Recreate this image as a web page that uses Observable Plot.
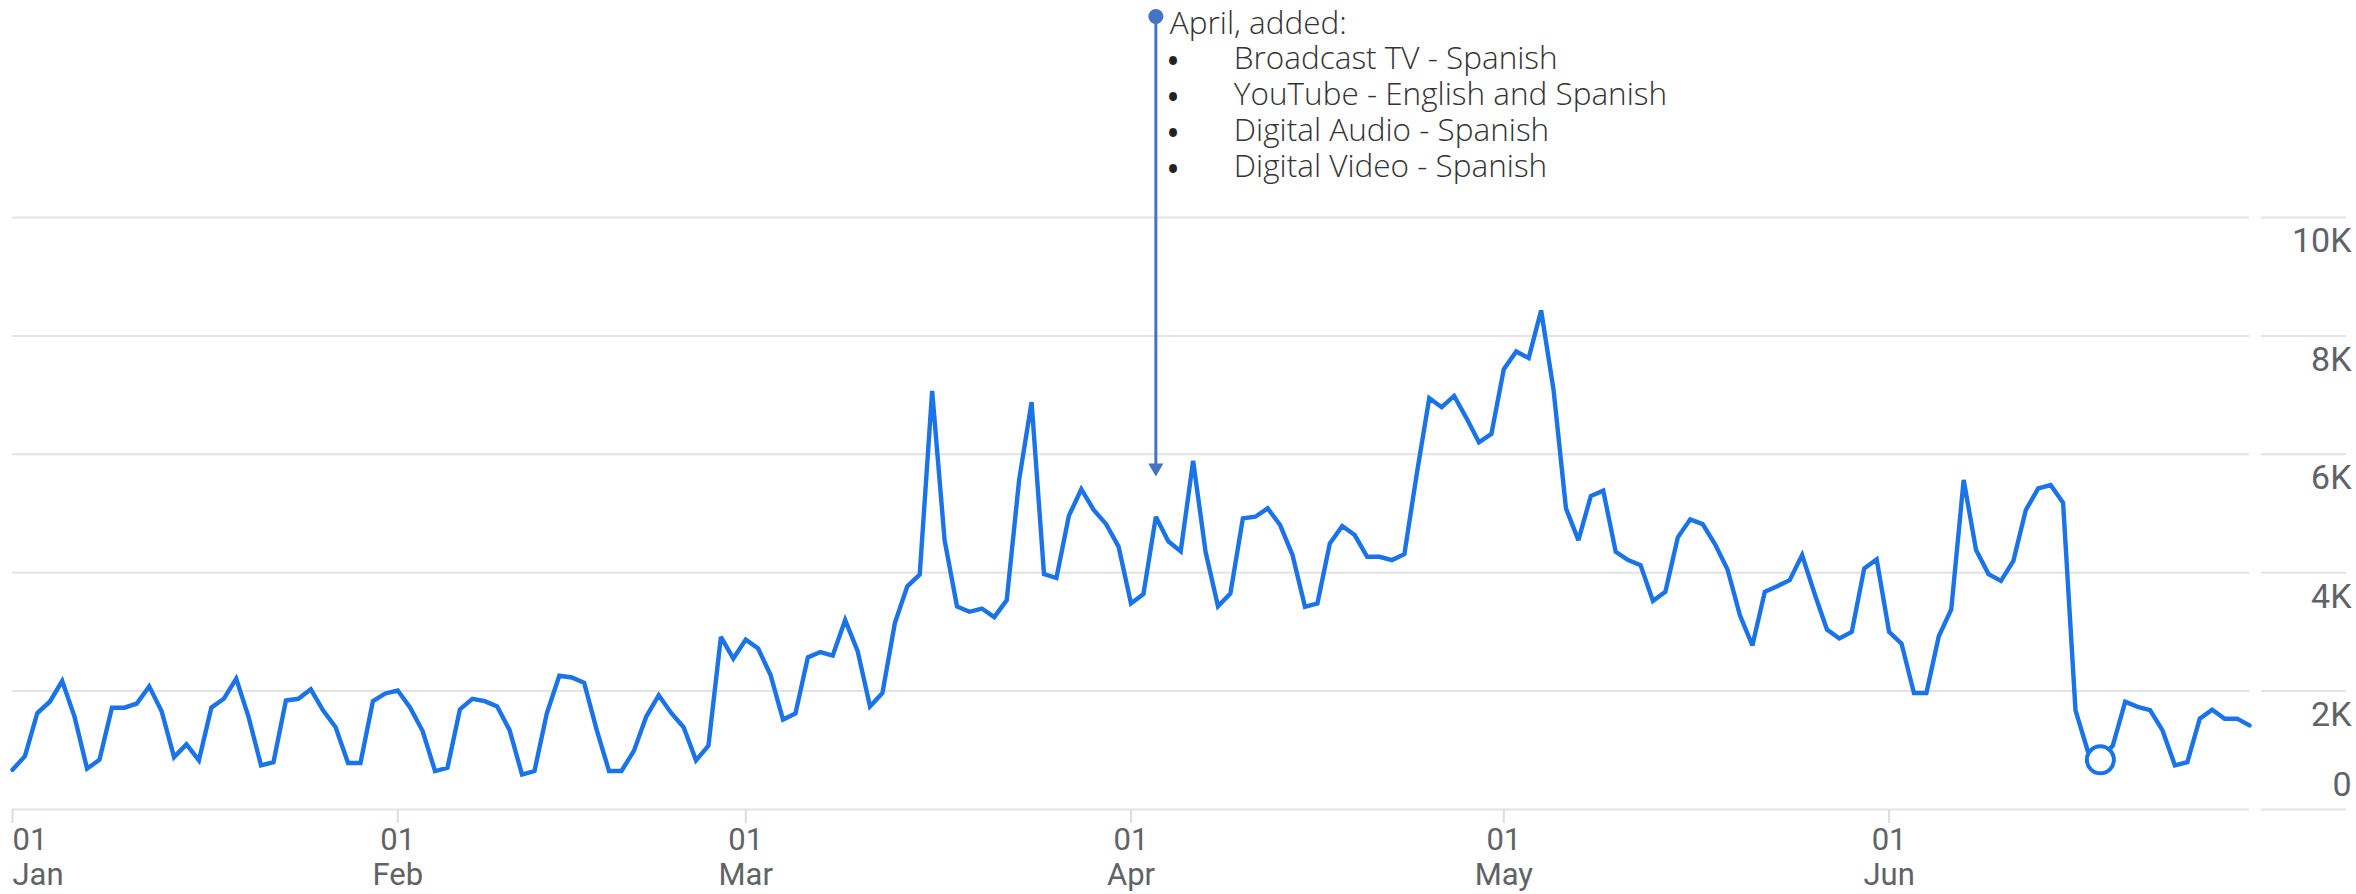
<!DOCTYPE html>
<html>
<head>
<meta charset="utf-8">
<script src="https://cdn.jsdelivr.net/npm/d3@7"></script>
<script src="https://cdn.jsdelivr.net/npm/@observablehq/plot@0.6"></script>
<style>
  html, body { margin: 0; padding: 0; background: #fff; }
  #chart svg { display: block; }
</style>
</head>
<body>
<div id="chart"></div>
<script>
// ---- data (daily, Jan 1 – Jun 30, 2023) ----
const startDate = "2023-01-01";
const values = [
  670, 900, 1630, 1820, 2170, 1560, 690, 840, 1720, 1720,
  1790, 2080, 1660, 885, 1100, 830, 1720, 1870, 2210, 1560,
  745, 800, 1840, 1870, 2030, 1670, 1390, 785, 785, 1830,
  1960, 2010, 1720, 1325, 650, 705, 1690, 1870, 1830, 1740,
  1340, 590, 650, 1630, 2260, 2230, 2140, 1350, 650, 650,
  990, 1570, 1930, 1630, 1390, 830, 1080, 2915, 2550, 2870,
  2720, 2270, 1520, 1620, 2570, 2660, 2600, 3200, 2680, 1740,
  1970, 3150, 3770, 3970, 7070, 4550, 3430, 3340, 3395, 3250,
  3536, 5570, 6880, 3976, 3910, 4960, 5410, 5060, 4820, 4440,
  3480, 3640, 4945, 4530, 4360, 5890, 4354, 3434, 3649, 4918,
  4945, 5087, 4805, 4297, 3423, 3480, 4495, 4788, 4636, 4269,
  4269, 4213, 4314, 5679, 6948, 6796, 6987, 6610, 6204, 6344,
  7439, 7737, 7625, 8430, 7088, 5087, 4551, 5295, 5385, 4354,
  4213, 4128, 3524, 3677, 4597, 4901, 4820, 4480, 4055, 3280,
  2770, 3677, 3773, 3874, 4297, 3649, 3040, 2888, 3000, 4072,
  4224, 3000, 2803, 1968, 1968, 2927, 3378, 5566, 4382, 3976,
  3862, 4200, 5058, 5425, 5481, 5182, 1675, 980, 840, 1080,
  1820, 1735, 1680, 1336, 744, 800, 1534, 1686, 1534, 1534,
  1421
];
const yTicks = [0, 2000, 4000, 6000, 8000, 10000];
const yTickLabels = ["0", "2K", "4K", "6K", "8K", "10K"];
const monthTicks = ["2023-01-01", "2023-02-01", "2023-03-01", "2023-04-01", "2023-05-01", "2023-06-01"];
const monthDayLabels = ["01", "01", "01", "01", "01", "01"];
const monthLabels = ["Jan", "Feb", "Mar", "Apr", "May", "Jun"];
const annotationDate = "2023-04-03";
const annotationTitle = "April, added:";
const annotationItems = [
  "Broadcast TV - Spanish",
  "YouTube - English and Spanish",
  "Digital Audio - Spanish",
  "Digital Video - Spanish"
];
const highlightDate = "2023-06-18";

// ---- build table ----
const start = new Date(startDate);
const data = values.map((v, i) => ({date: d3.utcDay.offset(start, i), value: v}));
const monthDates = monthTicks.map(d => new Date(d));
const annDate = new Date(annotationDate);
const annData = data.filter(d => +d.date === +annDate);
const hiDate = new Date(highlightDate);
const hiData = data.filter(d => +d.date === +hiDate);
const monthLabel = d => {
  const i = monthDates.findIndex(m => +m === +d);
  return monthDayLabels[i] + "\n" + monthLabels[i];
};
const yLabel = d => yTickLabels[yTicks.indexOf(d)];
const yMax = yTicks[yTicks.length - 1];

// ---- layout ----
const W = 2356, H = 894;
const mL = 12, mR = 107, mT = 217, mB = 85;
const frameW = W - mL - mR;
const lineColor = "#1a73e8";
const annColor = "#4472c4";
const gridColor = "#e3e3e3";
const axisText = "#5f6368";
const annFont = 31.5;
const bulletFont = 28;
const annLine = 36;           // px between annotation lines
const itemsTop = -174.4;      // offset of first item line from frame top

const xAxisOpts = {
  label: null, tickSize: 14, tickPadding: 2, stroke: "#dcdcdc", strokeWidth: 2,
  fill: axisText, fontSize: 31, lineHeight: 1.12, tickFormat: monthLabel
};
const yAxisOpts = {
  label: null, anchor: "right", tickSize: 0, tickPadding: 0, textAnchor: "end",
  dx: 102, fontSize: 34, fill: axisText, tickFormat: yLabel
};
const annText = {
  x: "date", frameAnchor: "top", textAnchor: "start", lineAnchor: "top",
  fontSize: annFont, fontFamily: "Open Sans", fontWeight: 300, fill: "#333"
};

const chart = Plot.plot({
  width: W,
  height: H,
  marginLeft: mL,
  marginRight: mR,
  marginTop: mT,
  marginBottom: mB,
  style: {fontFamily: "Roboto, sans-serif", color: axisText, background: "#fff", overflow: "visible"},
  x: {type: "utc", domain: [data[0].date, data[data.length - 1].date]},
  y: {domain: [yTicks[0], yMax]},
  marks: [
    // grid lines (plot area + segment under the y labels)
    Plot.ruleY(yTicks, {stroke: gridColor, strokeWidth: 2}),
    Plot.ruleY(yTicks, {stroke: gridColor, strokeWidth: 2, insetLeft: frameW + 12, insetRight: -97}),
    // x axis
    Plot.axisX(monthDates.slice(0, 1), {...xAxisOpts, textAnchor: "start"}),
    Plot.axisX(monthDates.slice(1), xAxisOpts),
    // y axis labels (right side)
    Plot.axisY(yTicks.filter(t => t > 0), {...yAxisOpts, dy: 24}),
    Plot.axisY(yTicks.filter(t => t === 0), {...yAxisOpts, dy: -24}),
    // series
    Plot.lineY(data, {
      x: "date", y: "value", stroke: lineColor, strokeWidth: 4.4,
      strokeLinejoin: "miter", strokeMiterlimit: 3
    }),
    Plot.dot(hiData, {x: "date", y: "value", r: 13.5, stroke: lineColor, strokeWidth: 4, fill: "#fff"}),
    // annotation
    Plot.ruleX(annData, {
      x: "date", y1: () => yMax, y2: "value",
      insetTop: -201, insetBottom: 48, stroke: annColor, strokeWidth: 3
    }),
    Plot.dot(annData, {x: "date", y: "value", symbol: "triangle", rotate: 180, r: 5.6, fill: annColor, stroke: "none", dy: -49}),
    Plot.dot(annData, {x: "date", frameAnchor: "top", dy: -201, r: 7.5, fill: annColor, stroke: "none"}),
    Plot.text(annData, {...annText, text: () => annotationTitle, dx: 14, dy: -205.5}),
    Plot.text(annData, {
      ...annText, text: () => annotationItems.map(() => "•").join("\n"),
      dx: 12, dy: itemsTop + 0.71 * (annFont - bulletFont), lineHeight: annLine / bulletFont,
      fontWeight: 700, fontSize: bulletFont, fill: "#222"
    }),
    Plot.text(annData, {
      ...annText, text: () => annotationItems.join("\n"),
      dx: 78, dy: itemsTop, lineHeight: annLine / annFont
    })
  ]
});
document.getElementById("chart").appendChild(chart);
</script>
</body>
</html>
